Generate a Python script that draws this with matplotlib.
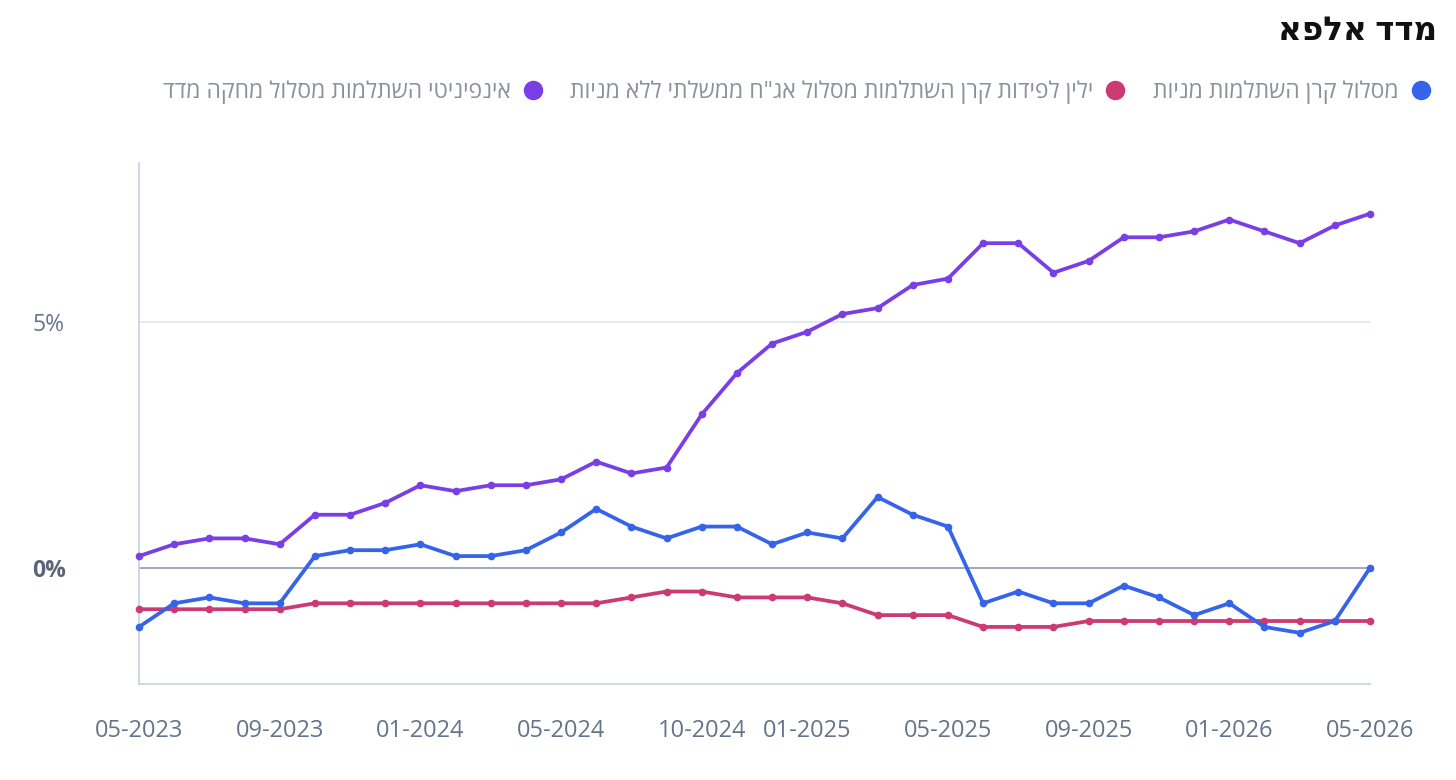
import matplotlib
matplotlib.use("Agg")
import matplotlib.pyplot as plt
from matplotlib.lines import Line2D

# month labels (one month is skipped in the source data around 09-2024)
months = [
    "05-2023", "06-2023", "07-2023", "08-2023", "09-2023", "10-2023", "11-2023", "12-2023",
    "01-2024", "02-2024", "03-2024", "04-2024", "05-2024", "06-2024", "07-2024", "08-2024",
    "10-2024", "11-2024", "12-2024", "01-2025", "02-2025", "03-2025", "04-2025", "05-2025",
    "06-2025", "07-2025", "08-2025", "09-2025", "10-2025", "11-2025", "12-2025", "01-2026",
    "02-2026", "03-2026", "04-2026", "05-2026",
]
shown_ticks = ["05-2023", "09-2023", "01-2024", "05-2024", "10-2024", "01-2025",
               "05-2025", "09-2025", "01-2026", "05-2026"]

blue = [-1.20, -0.72, -0.60, -0.72, -0.72, 0.24, 0.36, 0.36, 0.48, 0.24, 0.24, 0.36,
        0.72, 1.20, 0.84, 0.60, 0.84, 0.84, 0.48, 0.72, 0.60, 1.44, 1.08, 0.84,
        -0.72, -0.48, -0.72, -0.72, -0.36, -0.60, -0.96, -0.72, -1.20, -1.32, -1.08, 0.00]
red = [-0.84, -0.84, -0.84, -0.84, -0.84, -0.72, -0.72, -0.72, -0.72, -0.72, -0.72, -0.72,
       -0.72, -0.72, -0.60, -0.48, -0.48, -0.60, -0.60, -0.60, -0.72, -0.96, -0.96, -0.96,
       -1.20, -1.20, -1.20, -1.08, -1.08, -1.08, -1.08, -1.08, -1.08, -1.08, -1.08, -1.08]
purple = [0.24, 0.48, 0.60, 0.60, 0.48, 1.08, 1.08, 1.32, 1.68, 1.56, 1.68, 1.68,
          1.80, 2.16, 1.92, 2.04, 3.12, 3.96, 4.56, 4.80, 5.16, 5.28, 5.75, 5.88,
          6.60, 6.60, 6.00, 6.24, 6.72, 6.72, 6.84, 7.08, 6.84, 6.60, 6.96, 7.20]

title = "מדד אלפא"
labels = [
    "מסלול קרן השתלמות מניות",
    "ילין לפידות קרן השתלמות מסלול אג\"ח ממשלתי ללא מניות",
    "אינפיניטי השתלמות מסלול מחקה מדד",
]
colors = ["#3563e9", "#cc3a73", "#7a3ee6"]


def rtl(s):
    # matplotlib has no bidi support, flip the string so hebrew reads right to left
    return s[::-1]


plt.rcParams["font.family"] = ["Open Sans", "DejaVu Sans"]

fig = plt.figure(figsize=(14.56, 7.8), dpi=100)
ax = fig.add_axes([139 / 1456, 1 - 684 / 780, (1370 - 139) / 1456, (684 - 163) / 780])

x = list(range(len(months)))
for series, c in zip([red, blue, purple], [colors[1], colors[0], colors[2]]):
    ax.plot(x, series, color=c, lw=2.7, marker="o", ms=4.5, clip_on=False,
            solid_joinstyle="round", zorder=3)

ax.set_xlim(0, len(months) - 1)
ax.set_ylim(-2.36, 8.23)

ax.axhline(5, color="#e2e8f0", lw=1.3, zorder=1)
ax.axhline(0, color="#94a3b8", lw=1.3, zorder=1)

for side in ["top", "right"]:
    ax.spines[side].set_visible(False)
ax.spines["left"].set_color("#cbd5e1")
ax.spines["bottom"].set_color("#cbd5e1")
ax.spines["left"].set_linewidth(1.3)
ax.spines["bottom"].set_linewidth(1.3)

ax.set_yticks([0, 5])
ax.set_yticklabels(["0%", "5%"])
ax.tick_params(axis="y", length=0, pad=77, labelsize=16.5, labelcolor="#64748b")
for lbl in ax.get_yticklabels():
    lbl.set_horizontalalignment("left")
    if lbl.get_text() == "0%":
        lbl.set_fontweight("bold")
        lbl.set_color("#5b6478")

ax.set_xticks([months.index(m) for m in shown_ticks])
ax.set_xticklabels(shown_ticks)
ax.tick_params(axis="x", length=0, pad=25, labelsize=17, labelcolor="#64748b")

fig.text(1437 / 1456, 1 - 32 / 780, rtl(title), ha="right", va="center",
         fontsize=23.5, fontweight="bold", color="#111111")

handles = [Line2D([], [], ls="none", marker="o", ms=13, color=c) for c in colors]
order = [2, 1, 0]
leg = fig.legend([handles[i] for i in order], [rtl(labels[i]) for i in order],
                 loc="center right", bbox_to_anchor=(1431 / 1456, 1 - 92 / 780),
                 ncol=3, markerfirst=False, frameon=False, fontsize=16.5,
                 borderpad=0, borderaxespad=0,
                 handletextpad=0.5, columnspacing=1.2, handlelength=0.9)
for t in leg.get_texts():
    t.set_color("#8a909c")

fig.savefig("out.png", dpi=100)
